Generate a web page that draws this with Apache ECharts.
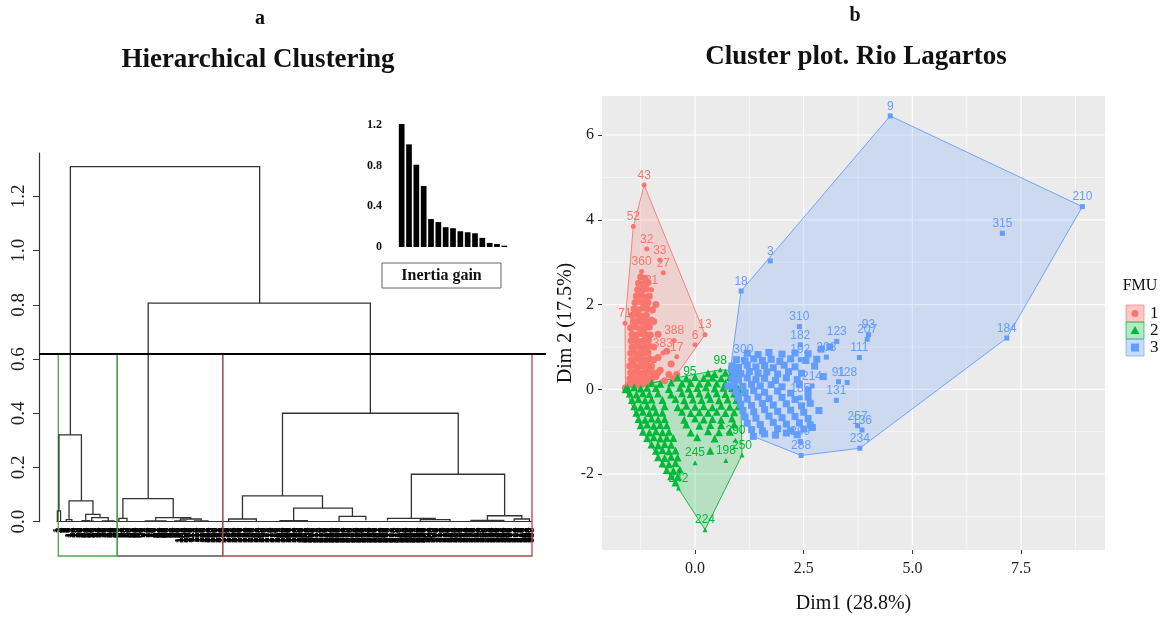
<!DOCTYPE html>
<html>
<head>
<meta charset="utf-8">
<script src="https://cdn.jsdelivr.net/npm/echarts@6/dist/echarts.min.js"></script>
<style>
  html, body { margin: 0; padding: 0; background: #fff; }
  #chart { width: 1166px; height: 619px; }
</style>
</head>
<body>
<div id="chart"></div>
<script>
// ---- panel a: dendrogram ----
// each merge: [xLeft, xRight, hLeft, hRight, hMerge] (x in leaf order units)
const dendroMerges = [
  [10.9, 165.1, 0.32, 0.806, 1.31],
  [1.6, 19.9, 0.04, 0.077, 0.32],
  [0.3, 2.9, 0, 0, 0.04],
  [9.8, 29.3, 0.008, 0.027, 0.077],
  [7.5, 12.1, 0, 0, 0.008],
  [23.4, 35.0, 0.004, 0.015, 0.027],
  [20.5, 26.3, 0, 0, 0.004],
  [28.3, 41.7, 0.002, 0.003, 0.015],
  [26.8, 29.8, 0, 0, 0.002],
  [37, 46.4, 0, 0, 0.003],
  [74.3, 255.3, 0.085, 0.40, 0.806],
  [53.7, 94.7, 0.012, 0.015, 0.085],
  [50.5, 57, 0, 0, 0.012],
  [80.4, 109, 0.003, 0.01, 0.015],
  [72, 88.8, 0, 0, 0.003],
  [100.5, 117.5, 0.003, 0.003, 0.01],
  [96, 105, 0, 0, 0.003],
  [112, 123, 0, 0, 0.003],
  [183.7, 326.9, 0.095, 0.175, 0.40],
  [151.1, 216.3, 0.01, 0.05, 0.095],
  [139.8, 162.4, 0.003, 0.003, 0.01],
  [192.8, 240.7, 0.004, 0.02, 0.05],
  [181.7, 204, 0, 0, 0.004],
  [229.8, 251.6, 0.003, 0.005, 0.02],
  [288.7, 364.7, 0.012, 0.022, 0.175],
  [269.3, 308.1, 0.004, 0.008, 0.012],
  [296, 320.2, 0, 0, 0.008],
  [350.7, 378.7, 0.005, 0.01, 0.022],
  [337.3, 364, 0, 0, 0.005],
  [372.5, 384.9, 0, 0, 0.01]
];
const leafCount = 388;
const leafIds = Array.from({ length: leafCount }, (_, i) => String(i + 1));
const cutHeight = 0.62;
const boxBottom = -0.1265;
// cluster boxes: [xLeft, xRight]
const cutBoxes = [[49.1, 135], [1.06, 49.1], [135, 387]];
const boxColors = ['#555555', '#4aa84a', '#b04a4a'];
const dendroTicks = [0, 0.2, 0.4, 0.6, 0.8, 1.0, 1.2];

// inset: inertia gain
const inertiaIdx = ['1','2','3','4','5','6','7','8','9','10','11','12','13','14','15'];
const inertiaGain = [1.21, 1.01, 0.81, 0.60, 0.275, 0.245, 0.195, 0.185, 0.155, 0.145, 0.135, 0.09, 0.04, 0.03, 0.013];
const inertiaTicks = [0, 0.4, 0.8, 1.2];

// ---- panel b: cluster plot ----
const xMajor = [0, 2.5, 5, 7.5];
const xMinor = [-1.25, 1.25, 3.75, 6.25, 8.75];
const yMajor = [-2, 0, 2, 4, 6];
const yMinor = [-3, -1, 1, 3, 5];

const fmu1 = [
  [-1.17, 4.82, '43'], [-1.42, 3.84, '52'], [-1.11, 3.31, '32'], [-0.81, 3.05, '33'],
  [-0.73, 2.75, '27'], [-1.23, 2.78, '360'], [-1.0, 2.35, '31'], [-1.61, 1.56, '71'],
  [-0.48, 1.15, '388'], [0.0, 1.05, '6'], [0.23, 1.29, '13'], [-0.74, 0.86, '383'], [-0.42, 0.77, '17'],
  [-1.25, 2.65], [-1.15, 2.62],
  [-1.3, 2.5], [-1.2, 2.48], [-1.08, 2.52],
  [-1.32, 2.35], [-1.22, 2.33], [-1.12, 2.37],
  [-1.35, 2.2], [-1.25, 2.22], [-1.15, 2.18], [-1.05, 2.2],
  [-1.38, 2.05], [-1.28, 2.07], [-1.18, 2.03], [-1.08, 2.05],
  [-1.4, 1.9], [-1.3, 1.88], [-1.2, 1.92], [-1.1, 1.9], [-0.98, 1.87],
  [-1.45, 1.75], [-1.33, 1.77], [-1.23, 1.73], [-1.12, 1.75],
  [-1.42, 1.6], [-1.32, 1.62], [-1.22, 1.58], [-1.12, 1.6], [-1.0, 1.63],
  [-1.48, 1.45], [-1.36, 1.47], [-1.26, 1.43], [-1.15, 1.45], [-1.05, 1.47],
  [-1.45, 1.3], [-1.35, 1.28], [-1.25, 1.32], [-1.15, 1.3], [-1.03, 1.28],
  [-1.47, 1.15], [-1.37, 1.17], [-1.27, 1.13], [-1.17, 1.15], [-1.07, 1.17],
  [-1.45, 1.0], [-1.35, 1.02], [-1.25, 0.98], [-1.15, 1.0], [-1.05, 1.02], [-0.95, 1.0],
  [-1.48, 0.85], [-1.38, 0.87], [-1.28, 0.83], [-1.18, 0.85], [-1.08, 0.87],
  [-1.46, 0.7], [-1.36, 0.72], [-1.26, 0.68], [-1.16, 0.7], [-1.05, 0.72], [-0.95, 0.7],
  [-1.5, 0.55], [-1.4, 0.57], [-1.3, 0.53], [-1.2, 0.55], [-1.1, 0.57], [-1.0, 0.55],
  [-1.48, 0.4], [-1.38, 0.42], [-1.28, 0.38], [-1.18, 0.4], [-1.08, 0.42], [-0.98, 0.4], [-0.85, 0.4],
  [-1.5, 0.25], [-1.4, 0.27], [-1.3, 0.23], [-1.2, 0.25], [-1.1, 0.27], [-1.0, 0.25],
  [-1.52, 0.12], [-1.42, 0.14], [-1.32, 0.1], [-1.22, 0.12], [-1.12, 0.14], [-1.6, 0.04],
  [-0.9, 0.3], [-0.8, 0.45], [-0.7, 0.2], [-0.6, 0.35], [-0.55, 0.6], [-0.85, 0.75],
  [-0.65, 0.9], [-0.5, 0.25], [-0.95, 1.6], [-0.9, 2.0], [-0.85, 1.3], [-0.42, 0.35]
];

const fmu2 = [
  [0.58, 0.46, '98'], [-0.12, 0.2, '95'], [0.0, -1.73, '245'], [0.71, -1.68, '198'],
  [1.08, -1.55, '250'], [0.93, -1.2, '290'], [0.23, -3.31, '224'], [-0.38, -2.33, '242'],
  [1.04, 0.44], [-1.6, 0.0],
  [0.3, 0.38], [0.45, 0.36], [0.7, 0.39], [0.85, 0.37],
  [-0.4, 0.28], [-0.2, 0.26], [0.0, 0.29], [0.2, 0.27], [0.4, 0.28], [0.6, 0.26], [0.8, 0.29], [0.95, 0.27],
  [-1.0, 0.15], [-0.8, 0.13], [-0.55, 0.16], [-0.3, 0.14], [-0.1, 0.15], [0.1, 0.13], [0.3, 0.16], [0.5, 0.14], [0.7, 0.15], [0.9, 0.13],
  [-1.55, 0.03], [-1.4, 0.05], [-1.25, 0.02], [-1.1, 0.04], [-0.9, 0.03], [-0.6, 0.01], [-0.35, 0.04], [-0.15, 0.02], [0.05, 0.03], [0.25, 0.05], [0.45, 0.02], [0.65, 0.04], [0.85, 0.03], [1.0, 0.01],
  [-1.5, -0.1], [-1.35, -0.12], [-1.2, -0.09], [-1.05, -0.11], [-0.85, -0.1], [-0.55, -0.12], [-0.3, -0.09], [-0.1, -0.11], [0.1, -0.1], [0.3, -0.12], [0.5, -0.09], [0.7, -0.11], [0.9, -0.1],
  [-1.45, -0.25], [-1.3, -0.23], [-1.15, -0.26], [-1.0, -0.24], [-0.75, -0.25], [-0.45, -0.23], [-0.25, -0.26], [-0.05, -0.24], [0.15, -0.25], [0.35, -0.23], [0.55, -0.26], [0.75, -0.24], [0.95, -0.25],
  [-1.4, -0.4], [-1.25, -0.42], [-1.1, -0.39], [-0.95, -0.41], [-0.7, -0.4], [-0.4, -0.42], [-0.2, -0.39], [0.0, -0.41], [0.2, -0.4], [0.4, -0.42], [0.6, -0.39], [0.8, -0.41], [1.0, -0.4],
  [-1.35, -0.55], [-1.2, -0.53], [-1.05, -0.56], [-0.9, -0.54], [-0.75, -0.55], [-0.3, -0.53], [-0.1, -0.56], [0.1, -0.54], [0.3, -0.55], [0.5, -0.53], [0.7, -0.56], [0.9, -0.54],
  [-1.3, -0.7], [-1.15, -0.72], [-1.0, -0.69], [-0.85, -0.71], [-0.7, -0.7], [-0.25, -0.72], [0.0, -0.69], [0.2, -0.71], [0.4, -0.7], [0.6, -0.72], [0.85, -0.69],
  [-1.25, -0.85], [-1.1, -0.83], [-0.95, -0.86], [-0.8, -0.84], [-0.65, -0.85], [-0.2, -0.83], [0.1, -0.86], [0.35, -0.84], [0.6, -0.85], [0.9, -0.83],
  [-1.2, -1.0], [-1.05, -1.02], [-0.9, -0.99], [-0.75, -1.01], [-0.6, -1.0], [-0.1, -1.02], [0.3, -0.99], [0.55, -1.01], [0.8, -1.0],
  [-1.1, -1.15], [-0.95, -1.13], [-0.8, -1.16], [-0.65, -1.14], [-0.5, -1.15], [0.05, -1.13], [0.45, -1.16],
  [-1.0, -1.3], [-0.85, -1.32], [-0.7, -1.29], [-0.55, -1.31],
  [-0.9, -1.45], [-0.75, -1.43], [-0.6, -1.46], [-0.45, -1.44], [0.35, -1.45],
  [-0.85, -1.6], [-0.7, -1.62], [-0.55, -1.59], [-0.4, -1.61],
  [-0.75, -1.75], [-0.6, -1.77], [-0.45, -1.74],
  [-0.65, -1.9], [-0.5, -1.92], [-0.35, -1.89],
  [-0.55, -2.05], [-0.4, -2.07], [-0.45, -2.2]
];

const fmu3 = [
  [4.49, 6.45, '9'], [8.91, 4.31, '210'], [7.07, 3.68, '315'], [7.17, 1.21, '184'],
  [1.73, 3.03, '3'], [1.06, 2.32, '18'], [2.4, 1.48, '310'], [2.42, 1.05, '182'],
  [3.26, 1.13, '123'], [3.99, 1.29, '93'], [3.96, 1.18, '207'], [3.78, 0.75, '111'],
  [3.02, 0.76, '208'], [2.42, 0.70, '192'], [2.69, 0.08, '214'], [3.30, 0.18, '91'],
  [3.50, 0.16, '128'], [3.25, -0.26, '131'], [2.42, -0.2, '185'], [3.74, -0.86, '257'],
  [3.84, -0.96, '136'], [3.79, -1.39, '234'], [2.42, -1.23, '299'], [2.44, -1.56, '288'],
  [1.11, 0.70, '300'], [1.34, -1.11], [0.76, 0.07], [0.84, 0.46],
  [1.2, 0.85], [1.45, 0.82], [1.7, 0.87], [2.0, 0.83], [2.3, 0.86], [2.6, 0.84],
  [0.95, 0.7], [1.15, 0.67], [1.35, 0.72], [1.55, 0.68], [1.75, 0.71], [1.95, 0.66], [2.2, 0.72], [2.55, 0.68], [2.8, 0.71],
  [0.85, 0.55], [1.0, 0.52], [1.2, 0.57], [1.4, 0.53], [1.6, 0.56], [1.8, 0.51], [2.05, 0.57], [2.3, 0.53],
  [0.9, 0.4], [1.05, 0.37], [1.25, 0.42], [1.45, 0.38], [1.65, 0.41], [1.9, 0.36], [2.15, 0.42], [2.45, 0.38],
  [0.85, 0.25], [1.0, 0.22], [1.2, 0.27], [1.4, 0.23], [1.6, 0.26], [1.85, 0.21], [2.1, 0.27], [2.35, 0.23],
  [0.9, 0.1], [1.1, 0.07], [1.3, 0.12], [1.5, 0.08], [1.75, 0.11], [2.0, 0.06], [2.4, 0.12],
  [0.95, -0.05], [1.15, -0.08], [1.35, -0.03], [1.6, -0.07], [1.9, -0.04], [2.2, -0.09], [2.6, -0.03],
  [1.0, -0.2], [1.2, -0.23], [1.45, -0.18], [1.7, -0.22], [2.0, -0.19], [2.3, -0.24], [2.6, -0.18],
  [1.05, -0.35], [1.3, -0.38], [1.55, -0.33], [1.8, -0.37], [2.1, -0.34], [2.45, -0.39], [2.65, -0.33],
  [1.1, -0.5], [1.35, -0.53], [1.6, -0.48], [1.9, -0.52], [2.2, -0.49], [2.5, -0.54],
  [1.15, -0.65], [1.4, -0.68], [1.7, -0.63], [2.0, -0.67], [2.3, -0.64], [2.6, -0.69],
  [1.2, -0.8], [1.5, -0.83], [1.8, -0.78], [2.1, -0.82], [2.4, -0.79], [2.65, -0.84],
  [1.3, -0.95], [1.55, -0.98], [1.9, -0.93], [2.2, -0.97], [2.5, -0.94],
  [1.6, -1.05], [1.85, -1.08], [2.1, -1.03], [2.35, -1.07],
  [2.9, 0.95], [3.1, 1.0], [2.75, 0.55], [2.95, 0.3], [2.85, -0.5], [2.7, -0.9]
];

const clusterNames = ['1', '2', '3'];
const clusterColors = ['#F8766D', '#00BA38', '#619CFF'];
const clusterSymbols = ['circle', 'triangle', 'rect'];
const clusterSymbolSizes = [7, 8, 7];

const serif = '"Liberation Serif", "DejaVu Serif", serif';
const sans = '"Liberation Sans", Arial, sans-serif';

function convexHull(pts) {
  const p = pts.map(d => [d[0], d[1]]).sort((a, b) => a[0] - b[0] || a[1] - b[1]);
  const cross = (o, a, b) => (a[0] - o[0]) * (b[1] - o[1]) - (a[1] - o[1]) * (b[0] - o[0]);
  const lower = [], upper = [];
  for (const q of p) {
    while (lower.length >= 2 && cross(lower[lower.length - 2], lower[lower.length - 1], q) <= 0) lower.pop();
    lower.push(q);
  }
  for (let i = p.length - 1; i >= 0; i--) {
    const q = p[i];
    while (upper.length >= 2 && cross(upper[upper.length - 2], upper[upper.length - 1], q) <= 0) upper.pop();
    upper.push(q);
  }
  upper.pop(); lower.pop();
  return lower.concat(upper);
}

function hexAlpha(hex, a) {
  const n = parseInt(hex.slice(1), 16);
  return 'rgba(' + (n >> 16) + ',' + ((n >> 8) & 255) + ',' + (n & 255) + ',' + a + ')';
}

const chart = echarts.init(document.getElementById('chart'), null, { renderer: 'canvas' });

const clusters = [fmu1, fmu2, fmu3];

const hullSeries = clusters.map((pts, ci) => {
  const hull = convexHull(pts);
  return {
    type: 'custom',
    xAxisIndex: 3, yAxisIndex: 3,
    z: 3,
    silent: true,
    data: hull,
    renderItem: (params, api) => {
      if (params.dataIndex !== 0) return null;
      return {
        type: 'polygon',
        shape: { points: hull.map(h => api.coord(h)) },
        style: { fill: hexAlpha(clusterColors[ci], 0.22), stroke: clusterColors[ci], lineWidth: 0.9 }
      };
    }
  };
});

const pointSeries = clusters.map((pts, ci) => ({
  name: clusterNames[ci],
  type: 'scatter',
  xAxisIndex: 3, yAxisIndex: 3,
  z: 4 + ci,
  symbol: clusterSymbols[ci],
  symbolSize: v => (v[2] ? 5 : clusterSymbolSizes[ci]),
  itemStyle: { color: clusterColors[ci], opacity: 1 },
  data: pts,
  label: {
    show: true,
    position: 'top',
    distance: 1,
    formatter: p => p.value[2] || '',
    color: clusterColors[ci],
    fontSize: 12,
    fontFamily: sans
  },
  animation: false
}));

const gridLineData = [
  ...xMinor.map(v => [v, 0, 0]),
  ...yMinor.map(v => [v, 1, 0]),
  ...xMajor.map(v => [v, 0, 1]),
  ...yMajor.map(v => [v, 1, 1])
];

const option = {
  backgroundColor: '#ffffff',
  animation: false,
  grid: [
    { left: 39, top: 153, width: 507, height: 368.7 },
    { left: 57, top: 153, width: 475, height: 368.7 },
    { left: 398, top: 120, width: 110, height: 127 },
    { left: 602, top: 96, width: 503, height: 454, show: true, backgroundColor: '#EBEBEB', borderWidth: 0 }
  ],
  xAxis: [
    { type: 'value', gridIndex: 0, min: -14.67, max: 398.4, show: false, axisLine: { onZero: false } },
    {
      type: 'category', gridIndex: 1, data: leafIds, boundaryGap: false,
      axisLine: { show: true, onZero: false, lineStyle: { color: '#333', width: 1 } },
      axisTick: { show: false },
      axisLabel: { interval: 0, rotate: 90, fontSize: 9, fontWeight: 'bold', fontFamily: sans, color: '#000', margin: 6 }
    },
    { type: 'category', gridIndex: 2, data: inertiaIdx, show: false },
    {
      type: 'value', gridIndex: 3, min: -2.14, max: 9.43,
      axisLine: { show: false, onZero: false },
      splitLine: { show: false },
      axisTick: { show: true, customValues: xMajor, length: 4, lineStyle: { color: '#333' } },
      axisLabel: { customValues: xMajor, formatter: v => v.toFixed(1), fontSize: 16, fontFamily: serif, color: '#222', margin: 11 },
      name: 'Dim1 (28.8%)', nameLocation: 'middle', nameGap: 44,
      nameTextStyle: { fontSize: 20, fontFamily: serif, color: '#111' }
    }
  ],
  yAxis: [
    {
      type: 'value', gridIndex: 0, min: 0, max: 1.36,
      axisLine: { show: true, onZero: false, lineStyle: { color: '#333', width: 1.2 } },
      axisTick: { show: true, customValues: dendroTicks, length: 6, lineStyle: { color: '#333' } },
      axisLabel: { customValues: dendroTicks, rotate: 90, formatter: v => v.toFixed(1), fontSize: 19, fontFamily: serif, color: '#222', margin: 10 },
      splitLine: { show: false }
    },
    { type: 'value', gridIndex: 1, min: 0, max: 1.36, show: false },
    {
      type: 'value', gridIndex: 2, min: 0, max: 1.25,
      axisLine: { show: false }, axisTick: { show: false }, splitLine: { show: false },
      axisLabel: { customValues: inertiaTicks, formatter: v => (v === 0 ? '0' : v.toFixed(1)), fontSize: 12, fontWeight: 'bold', fontFamily: serif, color: '#111', margin: 16 }
    },
    {
      type: 'value', gridIndex: 3, min: -3.79, max: 6.92,
      axisLine: { show: false, onZero: false },
      splitLine: { show: false },
      axisTick: { show: true, customValues: yMajor, length: 4, lineStyle: { color: '#333' } },
      axisLabel: { customValues: yMajor, fontSize: 16, fontFamily: serif, color: '#222', margin: 8 },
      name: 'Dim 2 (17.5%)', nameLocation: 'middle', nameGap: 26,
      nameTextStyle: { fontSize: 20, fontFamily: serif, color: '#111' }
    }
  ],
  series: [
    // cluster boxes below cut
    {
      type: 'custom', xAxisIndex: 0, yAxisIndex: 0, clip: false, silent: true, z: 1,
      data: cutBoxes,
      renderItem: (params, api) => {
        const a = api.coord([api.value(0), cutHeight]);
        const b = api.coord([api.value(1), boxBottom]);
        return {
          type: 'rect',
          shape: { x: a[0], y: a[1], width: b[0] - a[0], height: b[1] - a[1] },
          style: { fill: 'none', stroke: boxColors[params.dataIndex], lineWidth: 1.3 }
        };
      }
    },
    // dendrogram
    {
      type: 'custom', xAxisIndex: 0, yAxisIndex: 0, clip: false, silent: true, z: 2,
      data: dendroMerges,
      encode: { x: [0, 1], y: [2, 3, 4] },
      renderItem: (params, api) => {
        const xl = api.value(0), xr = api.value(1), hl = api.value(2), hr = api.value(3), h = api.value(4);
        return {
          type: 'polyline',
          shape: { points: [api.coord([xl, hl]), api.coord([xl, h]), api.coord([xr, h]), api.coord([xr, hr])] },
          style: { fill: 'none', stroke: '#333', lineWidth: 1.3 }
        };
      },
      markLine: {
        silent: true, symbol: 'none',
        label: { show: false },
        lineStyle: { color: '#000', width: 2, type: 'solid' },
        data: [{ yAxis: cutHeight }]
      }
    },
    // inertia gain bars
    {
      type: 'bar', xAxisIndex: 2, yAxisIndex: 2,
      data: inertiaGain, barWidth: 5.7,
      itemStyle: { color: '#000' }, silent: true
    },
    // panel grid lines
    {
      type: 'custom', xAxisIndex: 3, yAxisIndex: 3, silent: true, z: 2,
      data: gridLineData,
      renderItem: (params, api) => {
        const cs = params.coordSys;
        const v = api.value(0), horiz = api.value(1) === 1, major = api.value(2) === 1;
        let shape;
        if (horiz) {
          const p = api.coord([0, v]);
          shape = { x1: cs.x, y1: p[1], x2: cs.x + cs.width, y2: p[1] };
        } else {
          const p = api.coord([v, 0]);
          shape = { x1: p[0], y1: cs.y, x2: p[0], y2: cs.y + cs.height };
        }
        return { type: 'line', shape, style: { stroke: '#ffffff', lineWidth: major ? 1.2 : 0.6 } };
      }
    },
    ...hullSeries,
    ...pointSeries
  ],
  graphic: [
    { type: 'text', x: 260, y: 19, style: { text: 'a', font: 'bold 20px ' + serif, fill: '#111', align: 'center', verticalAlign: 'middle' } },
    { type: 'text', x: 258, y: 60, style: { text: 'Hierarchical Clustering', font: 'bold 27px ' + serif, fill: '#111', align: 'center', verticalAlign: 'middle' } },
    { type: 'text', x: 855, y: 16, style: { text: 'b', font: 'bold 20px ' + serif, fill: '#111', align: 'center', verticalAlign: 'middle' } },
    { type: 'text', x: 856, y: 57, style: { text: 'Cluster plot. Rio Lagartos', font: 'bold 27px ' + serif, fill: '#111', align: 'center', verticalAlign: 'middle' } },
    { type: 'rect', shape: { x: 382, y: 263, width: 119, height: 25 }, style: { fill: '#fff', stroke: '#666', lineWidth: 1 } },
    { type: 'text', x: 441.5, y: 276, style: { text: 'Inertia gain', font: 'bold 16px ' + serif, fill: '#111', align: 'center', verticalAlign: 'middle' } },
    // legend
    { type: 'text', x: 1140, y: 286, style: { text: 'FMU', font: '16px ' + serif, fill: '#111', align: 'center', verticalAlign: 'middle' } },
    { type: 'rect', shape: { x: 1126, y: 305, width: 18, height: 17 }, style: { fill: hexAlpha(clusterColors[0], 0.4), stroke: hexAlpha(clusterColors[0], 0.6), lineWidth: 1 } },
    { type: 'circle', shape: { cx: 1135, cy: 313.5, r: 3.5 }, style: { fill: clusterColors[0] } },
    { type: 'rect', shape: { x: 1126, y: 322, width: 18, height: 17 }, style: { fill: hexAlpha(clusterColors[1], 0.3), stroke: hexAlpha(clusterColors[1], 0.7), lineWidth: 1 } },
    { type: 'polygon', shape: { points: [[1135, 326], [1139.5, 334], [1130.5, 334]] }, style: { fill: clusterColors[1] } },
    { type: 'rect', shape: { x: 1126, y: 339, width: 18, height: 17 }, style: { fill: hexAlpha(clusterColors[2], 0.35), stroke: hexAlpha(clusterColors[2], 0.6), lineWidth: 1 } },
    { type: 'rect', shape: { x: 1131, y: 343.5, width: 8, height: 8 }, style: { fill: clusterColors[2] } },
    { type: 'text', x: 1150, y: 314, style: { text: clusterNames[0], font: '17px ' + serif, fill: '#111', align: 'left', verticalAlign: 'middle' } },
    { type: 'text', x: 1150, y: 331, style: { text: clusterNames[1], font: '17px ' + serif, fill: '#111', align: 'left', verticalAlign: 'middle' } },
    { type: 'text', x: 1150, y: 348, style: { text: clusterNames[2], font: '17px ' + serif, fill: '#111', align: 'left', verticalAlign: 'middle' } }
  ]
};

chart.setOption(option);
</script>
</body>
</html>
